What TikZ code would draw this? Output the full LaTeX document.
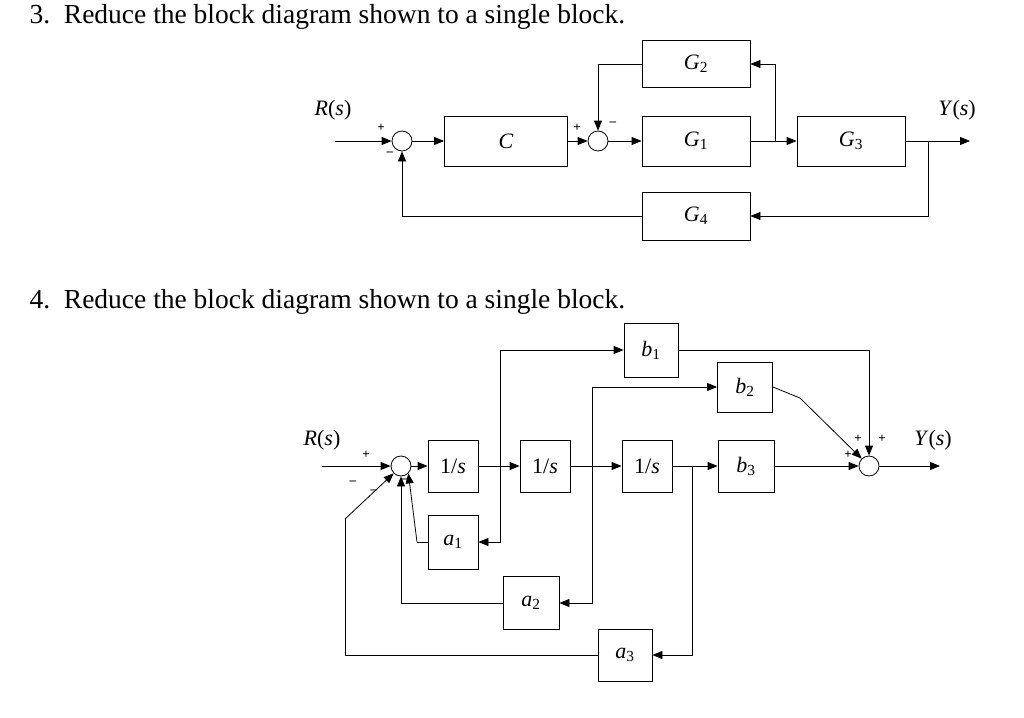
\documentclass[tikz,border=0pt]{standalone}
\usepackage{fontspec}
\setmainfont{Liberation Serif}
\usetikzlibrary{arrows.meta}
\begin{document}
\begin{tikzpicture}[x=1pt,y=-1pt,
  blk/.style={draw,line width=0.8pt,minimum width=#1,minimum height=50pt,inner sep=0pt,font=\fontsize{22}{22}\selectfont\itshape},
  blk/.default=108pt,
  sm/.style={draw,circle,minimum size=20pt,inner sep=0pt,line width=0.8pt},
  ar/.style={-{Triangle[length=10pt,width=8pt]},line width=0.8pt},
  ln/.style={line width=0.8pt},
  sg/.style={font=\fontsize{13}{13}\selectfont\bfseries,inner sep=0pt},
  lb/.style={font=\fontsize{22}{22}\selectfont,inner sep=0pt}]
\useasboundingbox (0,0) rectangle (1024,717);
\node[anchor=west,font=\fontsize{27.5}{27.5}\selectfont] (h3) at (26,17) {3.\ \ Reduce the block diagram shown to a single block.};
\node[anchor=west,font=\fontsize{27.5}{27.5}\selectfont] (h4) at (26,302) {4.\ \ Reduce the block diagram shown to a single block.};
% ---- diagram 3
\node[lb] (R1) at (333,110) {\textit{R}(\textit{s})};
\node[lb] (Y1) at (957,110) {\textit{Y}(\textit{s})};
\coordinate (in1) at (335,141);
\node[sm] (s1) at (402,141) {};
\node[blk=123pt] (C) at (506,141) {C};
\node[sm] (s2) at (598,141) {};
\node[blk] (G1) at (696,141) {G\textsubscript{\upshape 1}};
\node[blk,minimum height=47pt] (G2) at (696,64) {G\textsubscript{\upshape 2}};
\node[blk] (G3) at (851,141) {G\textsubscript{\upshape 3}};
\node[blk,minimum height=48pt] (G4) at (696,216) {G\textsubscript{\upshape 4}};
\coordinate (o1) at (970,141);
\coordinate (b1) at (775,141);
\coordinate (b2) at (928,141);
\draw[ar] (in1) -- (s1);
\draw[ar] (s1) -- (C);
\draw[ar] (C) -- (s2);
\draw[ar] (s2) -- (G1);
\draw[ar] (G1) -- (G3);
\draw[ar] (b1) |- (G2.east);
\draw[ar] (G2.west) -| (s2.north);
\draw[ar] (G3) -- (o1);
\draw[ar] (b2) |- (G4.east);
\draw[ar] (G4.west) -| (s1.south);
\node[sg] at (381,128) {+};
\node[sg] at (390,154) {\textbf{--}};
\node[sg] at (577,128) {+};
\node[sg] at (613,124) {\textbf{--}};
% ---- diagram 4
\node[lb] (R2) at (322,440) {\textit{R}(\textit{s})};
\node[lb] (Y2) at (933,440) {\textit{Y}(\textit{s})};
\coordinate (in2) at (322,466);
\node[sm] (t1) at (401,466) {};
\node[blk=50pt,minimum height=52pt,font=\fontsize{22}{22}\selectfont] (i1) at (453,466) {1/\textit{s}};
\node[blk=50pt,minimum height=52pt,font=\fontsize{22}{22}\selectfont] (i2) at (545,466) {1/\textit{s}};
\node[blk=50pt,minimum height=52pt,font=\fontsize{22}{22}\selectfont] (i3) at (647,466) {1/\textit{s}};
\node[blk=56pt,minimum height=52pt] (B3) at (746,466) {b\textsubscript{\upshape 3}};
\node[blk=54pt,minimum height=54pt] (B1) at (651,350) {b\textsubscript{\upshape 1}};
\node[blk=55pt,minimum height=50pt] (B2) at (745,387) {b\textsubscript{\upshape 2}};
\node[sm] (t2) at (869,466) {};
\node[blk=50pt,minimum height=54pt] (A1) at (453,542) {a\textsubscript{\upshape 1}};
\node[blk=56pt,minimum height=53pt] (A2) at (531,603) {a\textsubscript{\upshape 2}};
\node[blk=54pt,minimum height=52pt] (A3) at (625,655) {a\textsubscript{\upshape 3}};
\coordinate (o2) at (940,466);
\coordinate (c1) at (500,466);
\coordinate (c2) at (592,466);
\coordinate (c3) at (692,466);
\coordinate (k2) at (800,398);
\coordinate (k1) at (417,542);
\coordinate (k3) at (345,519);
\draw[ar] (in2) -- (t1);
\draw[ar] (t1) -- (i1);
\draw[ar] (i1) -- (i2);
\draw[ar] (i2) -- (i3);
\draw[ar] (i3) -- (B3);
\draw[ar] (B3) -- (t2);
\draw[ar] (t2) -- (o2);
\draw[ar] (c1) |- (B1.west);
\draw[ar] (c2) |- (B2.west);
\draw[ar] (B1.east) -| (t2.north);
\draw[ln] (B2.east) -- (k2);
\draw[ar] (k2) -- (t2.north west);
\draw[ar] (c1) |- (A1.east);
\draw[ar] (c2) |- (A2.east);
\draw[ar] (c3) |- (A3.east);
\draw[ln] (A1.west) -- (k1);
\draw[ar] (k1) -- (t1.south east);
\draw[ar] (A2.west) -| (t1.south);
\draw[ln] (A3.west) -| (k3);
\draw[ar] (k3) -- (t1.south west);
\node[sg] at (366,455) {+};
\node[sg] at (353,483) {\textbf{--}};
\node[sg] at (374,492) {\textbf{--}};
\node[sg] at (404,481) {\textbf{--}};
\node[sg] at (848,455) {+};
\node[sg] at (858,439) {+};
\node[sg] at (882,439) {+};
\end{tikzpicture}
\end{document}
